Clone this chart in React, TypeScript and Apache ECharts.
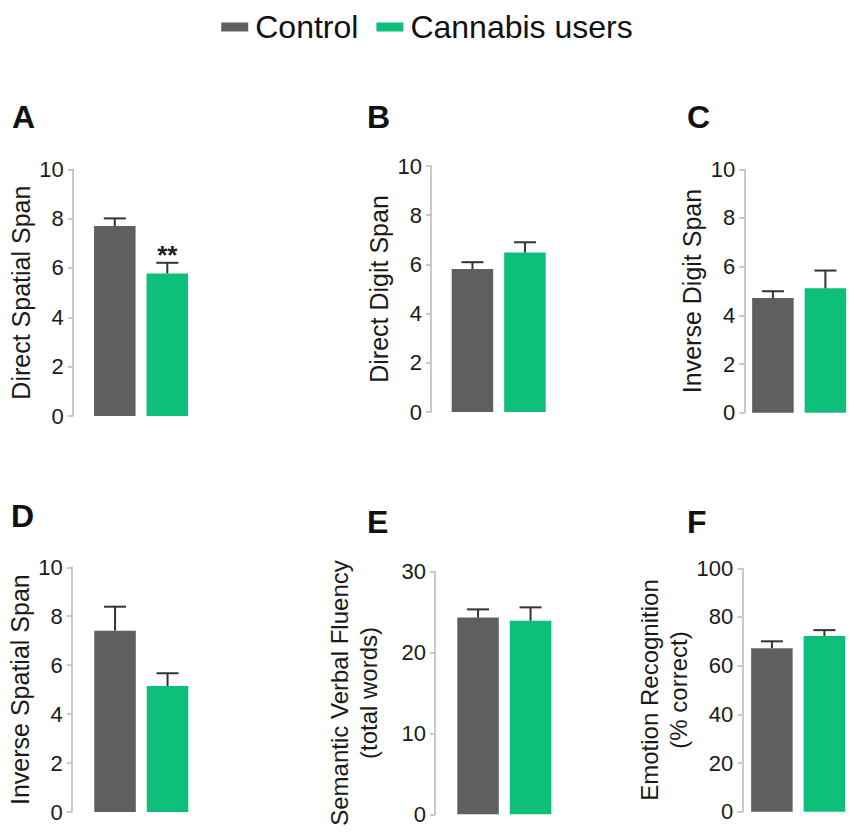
import React, { useEffect, useRef } from "react";
import * as echarts from "echarts";

// ---- data ----
const panelLetters = ["A", "B", "C", "D", "E", "F"];
const yAxisNames = [
  "Direct Spatial Span",
  "Direct Digit Span",
  "Inverse Digit Span",
  "Inverse Spatial Span",
  "Semantic Verbal Fluency\n(total words)",
  "Emotion Recognition\n(% correct)",
];
const groups = ["Control", "Cannabis users"];
const controlMean = [7.7, 5.81, 4.71, 7.41, 24.35, 67.2];
const controlSem = [0.31, 0.28, 0.28, 0.98, 0.99, 2.8];
const cannabisMean = [5.78, 6.48, 5.11, 5.15, 23.93, 72.2];
const cannabisSem = [0.43, 0.42, 0.73, 0.52, 1.66, 2.4];
const significance = ["**", "", "", "", "", ""];
const yMax = [10, 10, 10, 10, 30, 100];
const yInterval = [2, 2, 2, 2, 10, 20];

// ---- layout / style ----
const FONT = "'Liberation Sans', Arial, Helvetica, sans-serif";
const CONTROL_COLOR = "#5f5f5f";
const CANNABIS_COLOR = "#0dbf78";
const ERR_COLOR = "#333333";
const AXIS_COLOR = "#b8b8b8";
const BAR_W = 41.5;
const BAR_GAP_PX = 11;
const OFFSET = (BAR_W + BAR_GAP_PX) / 2;

const gridLayout = [
  { left: 72.7, top: 169.3, width: 136.7, height: 246.7, nameGap: 34, nameSize: 25, letter: [12, 101] },
  { left: 431, top: 166, width: 135.4, height: 246, nameGap: 37.5, nameSize: 25, letter: [367, 101] },
  { left: 744.3, top: 169.3, width: 142, height: 243.4, nameGap: 32, nameSize: 25, letter: [687, 101] },
  { left: 71.7, top: 567.3, width: 139.2, height: 244.7, nameGap: 33, nameSize: 25, letter: [11, 500] },
  { left: 435, top: 571.7, width: 138.6, height: 242.6, nameGap: 52, nameSize: 24, letter: [367, 506] },
  { left: 742.3, top: 568.3, width: 139.4, height: 243.4, nameGap: 49, nameSize: 24, letter: [687, 506] },
];

function buildOption() {
  const grid: any[] = [];
  const xAxis: any[] = [];
  const yAxis: any[] = [];
  const series: any[] = [];
  const graphic: any[] = [];

  panelLetters.forEach((letter, i) => {
    const g = gridLayout[i];
    grid.push({ left: g.left, top: g.top, width: g.width, height: g.height, containLabel: false });
    xAxis.push({
      type: "category",
      gridIndex: i,
      data: [letter],
      show: false,
    });
    yAxis.push({
      type: "value",
      gridIndex: i,
      min: 0,
      max: yMax[i],
      interval: yInterval[i],
      name: yAxisNames[i],
      nameLocation: "middle",
      nameGap: g.nameGap,
      nameTextStyle: {
        fontFamily: FONT,
        fontSize: g.nameSize,
        color: "#1a1a1a",
        lineHeight: 29,
      },
      axisLine: { show: true, lineStyle: { color: AXIS_COLOR, width: 1.5 } },
      axisTick: { show: true, length: 5, lineStyle: { color: AXIS_COLOR, width: 1.5 } },
      axisLabel: { fontFamily: FONT, fontSize: 22, color: "#1a1a1a", margin: 9 },
      splitLine: { show: false },
    });
    series.push({
      name: groups[0],
      type: "bar",
      xAxisIndex: i,
      yAxisIndex: i,
      data: [controlMean[i]],
      barWidth: BAR_W,
      barGap: (BAR_GAP_PX / BAR_W) * 100 + "%",
      itemStyle: { color: CONTROL_COLOR },
    });
    series.push({
      name: groups[1],
      type: "bar",
      xAxisIndex: i,
      yAxisIndex: i,
      data: [cannabisMean[i]],
      barWidth: BAR_W,
      barGap: (BAR_GAP_PX / BAR_W) * 100 + "%",
      itemStyle: { color: CANNABIS_COLOR },
    });
    series.push({
      type: "custom",
      xAxisIndex: i,
      yAxisIndex: i,
      z: 5,
      silent: true,
      data: [
        [0, controlMean[i], controlSem[i], 0],
        [0, cannabisMean[i], cannabisSem[i], 1],
      ],
      encode: { x: 0, y: 1 },
      renderItem: (params: any, api: any) => {
        const mean = api.value(1);
        const err = api.value(2);
        const side = api.value(3);
        const base = api.coord([0, mean]);
        const top = api.coord([0, mean + err]);
        const x = base[0] + (side === 0 ? -OFFSET : OFFSET);
        const children: any[] = [
          {
            type: "line",
            shape: { x1: x, y1: base[1], x2: x, y2: top[1] },
            style: { stroke: ERR_COLOR, lineWidth: 2 },
          },
          {
            type: "line",
            shape: { x1: x - 11, y1: top[1], x2: x + 11, y2: top[1] },
            style: { stroke: ERR_COLOR, lineWidth: 2 },
          },
        ];
        const sig = significance[i];
        if (side === 1 && sig) {
          children.push({
            type: "text",
            style: {
              text: sig,
              x: x,
              y: top[1] + 5,
              textAlign: "center",
              textVerticalAlign: "bottom",
              fontFamily: FONT,
              fontSize: 26,
              fontWeight: "bold",
              fill: "#222",
            },
          });
        }
        return { type: "group", children };
      },
    });
    graphic.push({
      type: "text",
      left: g.letter[0],
      top: g.letter[1],
      style: {
        text: letter,
        fontFamily: FONT,
        fontSize: 32,
        fontWeight: "bold",
        fill: "#111",
      },
    });
  });

  return {
    animation: false,
    backgroundColor: "#ffffff",
    textStyle: { fontFamily: FONT },
    legend: {
      data: groups,
      top: 6,
      left: "center",
      icon: "rect",
      itemWidth: 27,
      itemHeight: 9,
      itemGap: 18,
      textStyle: { fontFamily: FONT, fontSize: 32, color: "#111", padding: [0, 0, 0, 2] },
    },
    grid,
    xAxis,
    yAxis,
    series,
    graphic,
  };
}

export default function App() {
  const ref = useRef<HTMLDivElement>(null);
  useEffect(() => {
    if (!ref.current) return;
    const chart = echarts.init(ref.current, undefined, { renderer: "svg" });
    chart.setOption(buildOption() as any);
    return () => chart.dispose();
  }, []);
  return (
    <div
      ref={ref}
      style={{ position: "fixed", left: 0, top: 0, width: 854, height: 836, background: "#fff" }}
    />
  );
}
